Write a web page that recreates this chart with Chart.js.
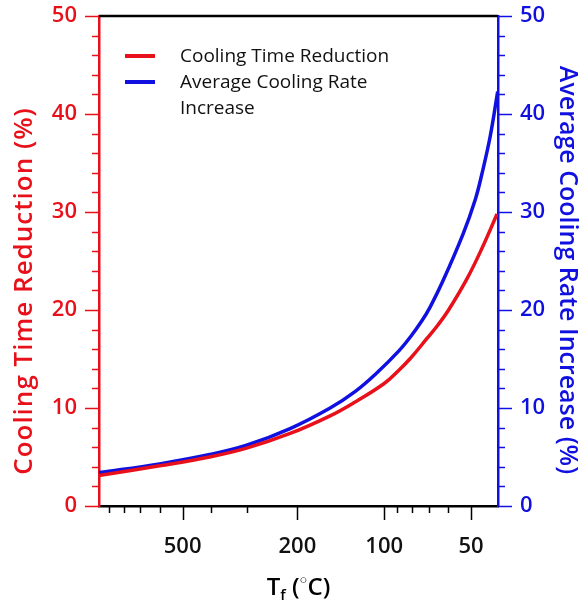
<!DOCTYPE html>
<html>
<head>
<meta charset="utf-8">
<script src="https://cdn.jsdelivr.net/npm/chart.js@4.4.1/dist/chart.umd.min.js"></script>
<style>
html, body { margin: 0; padding: 0; background: #fff; }
#wrap { width: 584px; height: 602px; }
</style>
</head>
<body>
<div id="wrap"><canvas id="chart"></canvas></div>
<script>
// values (T in degC, % on y)
const redTemps = [977, 601, 403, 300, 212, 154, 128, 100, 89.3, 80.9, 71.3, 65.0, 59.8, 51.6, 45.8, 40.6];
const redValues = [3.1, 4.1, 5.0, 5.9, 7.4, 9.2, 10.5, 12.5, 13.8, 15.1, 17.05, 18.5, 20.0, 23.2, 26.3, 29.8];
const blueTemps = [977, 601, 403, 300, 212, 154, 125.9, 105.9, 89.1, 80.9, 74.0, 69.3, 62.7, 53.2, 48.4, 45.9, 42.9, 40.4];
const blueValues = [3.4, 4.3, 5.25, 6.2, 7.9, 10.0, 11.7, 13.6, 15.8, 17.3, 18.9, 20.3, 22.9, 27.8, 31.2, 33.8, 37.7, 42.3];

const xTickValues = [900, 800, 700, 600, 500, 400, 300, 200, 100, 90, 80, 70, 60, 50];
const xLabelValues = [500, 200, 100, 50];
const legendLines = [['Cooling Time Reduction'], ['Average Cooling Rate', 'Increase']];
const leftTitle = 'Cooling Time Reduction (%)';
const rightTitle = 'Average Cooling Rate Increase (%)';

const RED = '#e8101a';
const BLUE = '#1010e0';
const FONT = "'Open Sans', sans-serif";

const toPoints = (xs, ys) => xs.map((x, i) => ({x: x, y: ys[i]}));

// no extra room for half labels: the plot box is placed by layout padding
const noOverhang = s => {
    s.paddingTop = 0; s.paddingBottom = 0;
    s.paddingLeft = 0; s.paddingRight = 0;
};

// tick marks, frame top line, titles and legend
const decorPlugin = {
    id: 'decor',
    afterDraw(chart) {
        const ctx = chart.ctx;
        const area = chart.chartArea;
        const sx = chart.scales.x, sy = chart.scales.y, sy2 = chart.scales.y2;
        ctx.save();
        ctx.lineWidth = 1.5;

        ctx.strokeStyle = '#000';
        sx.ticks.forEach(t => {
            const px = Math.round(sx.getPixelForValue(t.value)) + 0.5;
            const len = xLabelValues.includes(t.value) ? 14 : 7;
            ctx.beginPath();
            ctx.moveTo(px, area.bottom);
            ctx.lineTo(px, area.bottom + len);
            ctx.stroke();
        });
        [[sy, RED, -1, area.left], [sy2, BLUE, 1, area.right]].forEach(([s, col, dir, edge]) => {
            ctx.strokeStyle = col;
            s.ticks.forEach(t => {
                const py = Math.round(s.getPixelForValue(t.value)) + 0.5;
                const len = t.value % 10 === 0 ? 14 : 7;
                ctx.beginPath();
                ctx.moveTo(edge, py);
                ctx.lineTo(edge + dir * len, py);
                ctx.stroke();
            });
        });

        // top frame line
        ctx.strokeStyle = '#000';
        ctx.lineWidth = 2.5;
        ctx.beginPath();
        ctx.moveTo(area.left, area.top);
        ctx.lineTo(area.right, area.top);
        ctx.stroke();

        // axis titles
        ctx.textAlign = 'center';
        ctx.textBaseline = 'middle';
        ctx.fillStyle = RED;
        ctx.font = '600 26px ' + FONT;
        ctx.letterSpacing = '1px';
        ctx.save();
        ctx.translate(25, 291);
        ctx.rotate(-Math.PI / 2);
        ctx.fillText(leftTitle, 0, 0);
        ctx.restore();
        ctx.letterSpacing = '0px';
        ctx.fillStyle = BLUE;
        ctx.font = '600 25px ' + FONT;
        ctx.save();
        ctx.translate(567, 270);
        ctx.rotate(Math.PI / 2);
        ctx.fillText(rightTitle, 0, 0);
        ctx.restore();

        // x title: T_f (°C)
        ctx.fillStyle = '#000';
        ctx.textAlign = 'left';
        ctx.textBaseline = 'alphabetic';
        const base = 595;
        const parts = [
            ['T', '600 24px ' + FONT, 0],
            ['f', '600 15px ' + FONT, 5],
            [' (', '600 24px ' + FONT, 0],
            ['\u25CB', '400 13px ' + FONT, -11],
            ['C)', '600 24px ' + FONT, 0]
        ];
        let total = 0;
        parts.forEach(p => { ctx.font = p[1]; total += ctx.measureText(p[0]).width; });
        let cx = (area.left + area.right) / 2 - total / 2;
        parts.forEach(p => {
            ctx.font = p[1];
            ctx.fillText(p[0], cx, base + p[2]);
            cx += ctx.measureText(p[0]).width;
        });

        // legend
        const colors = [RED, BLUE];
        ctx.lineWidth = 4;
        ctx.font = '400 19px ' + FONT;
        ctx.textBaseline = 'middle';
        let ly = 57;
        legendLines.forEach((lines, i) => {
            ctx.strokeStyle = colors[i];
            ctx.beginPath();
            ctx.moveTo(125, ly - 1);
            ctx.lineTo(155, ly - 1);
            ctx.stroke();
            lines.forEach(txt => {
                ctx.fillStyle = '#111';
                ctx.fillText(txt, 180, ly);
                ly += 26;
            });
        });
        ctx.restore();
    }
};

new Chart(document.getElementById('chart'), {
    type: 'line',
    data: {
        datasets: [{
            label: legendLines[0].join(' '),
            data: toPoints(redTemps, redValues),
            borderColor: RED,
            borderWidth: 3.5,
            pointRadius: 0,
            tension: 0.4,
            yAxisID: 'y'
        }, {
            label: legendLines[1].join(' '),
            data: toPoints(blueTemps, blueValues),
            borderColor: BLUE,
            borderWidth: 3.5,
            pointRadius: 0,
            tension: 0.4,
            yAxisID: 'y2'
        }]
    },
    options: {
        responsive: true,
        maintainAspectRatio: false,
        animation: false,
        layout: { padding: { top: 16, left: 0, right: 0, bottom: 0 } },
        plugins: { legend: { display: false }, tooltip: { enabled: false } },
        scales: {
            x: {
                type: 'logarithmic',
                reverse: true,
                min: 40.3,
                max: 975,
                afterBuildTicks: s => { s.ticks = xTickValues.map(v => ({value: v})); },
                afterFit: s => { s.height = 96; noOverhang(s); },
                grid: { display: false },
                border: { display: true, color: '#000', width: 2.5 },
                ticks: {
                    autoSkip: false,
                    maxRotation: 0,
                    padding: 20,
                    color: '#111',
                    font: { family: FONT, size: 22, weight: '600' },
                    callback: v => xLabelValues.includes(v) ? String(v) : ''
                }
            },
            y: {
                position: 'left',
                min: 0,
                max: 50,
                afterFit: s => { s.width = 99; noOverhang(s); },
                grid: { display: false },
                border: { display: true, color: RED, width: 2.5 },
                ticks: {
                    stepSize: 2,
                    autoSkip: false,
                    padding: 14,
                    color: RED,
                    font: { family: FONT, size: 22, weight: '600' },
                    callback: v => v % 10 === 0 ? String(v) : ''
                }
            },
            y2: {
                position: 'right',
                min: 0,
                max: 50,
                afterFit: s => { s.width = 86; noOverhang(s); },
                grid: { display: false },
                border: { display: true, color: BLUE, width: 2.5 },
                ticks: {
                    stepSize: 2,
                    autoSkip: false,
                    padding: 14,
                    color: BLUE,
                    font: { family: FONT, size: 22, weight: '600' },
                    callback: v => v % 10 === 0 ? String(v) : ''
                }
            }
        }
    },
    plugins: [decorPlugin]
});
</script>
</body>
</html>
